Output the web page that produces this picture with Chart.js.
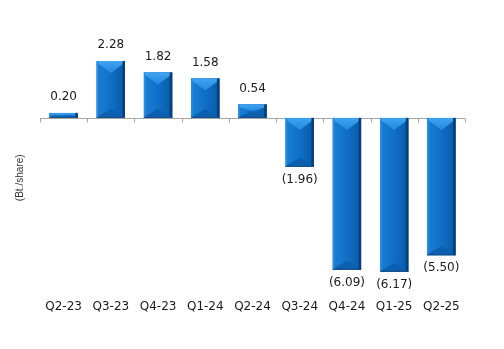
<!DOCTYPE html>
<html>
<head>
<meta charset="utf-8">
<script src="https://cdn.jsdelivr.net/npm/chart.js@4.4.1/dist/chart.umd.min.js"></script>
<style>
  body { margin: 0; background: #fff; }
</style>
</head>
<body>
<canvas id="plots" width="504" height="349"></canvas>
<script>
// quarters on the X-axis
var quarters = ["Q2-23", "Q3-23", "Q4-23", "Q1-24", "Q2-24", "Q3-24", "Q4-24", "Q1-25", "Q2-25"];
// earnings per share, Bt./share
var eps = [0.20, 2.28, 1.82, 1.58, 0.54, -1.96, -6.09, -6.17, -5.50];

function fmt(v) {
    return v < 0 ? "(" + Math.abs(v).toFixed(2) + ")" : v.toFixed(2);
}

// zero line with little tick marks between categories
var zeroLine = {
    id: "zeroLine",
    beforeDatasetsDraw: function (chart) {
        var ctx = chart.ctx, x = chart.scales.x, y = chart.scales.y;
        var y0 = Math.round(y.getPixelForValue(0)) + 0.5;
        var half = (x.getPixelForValue(1) - x.getPixelForValue(0)) / 2;
        ctx.save();
        ctx.strokeStyle = "#a6a6a6";
        ctx.lineWidth = 1;
        ctx.beginPath();
        ctx.moveTo(chart.chartArea.left, y0);
        ctx.lineTo(chart.chartArea.right, y0);
        for (var i = 0; i <= quarters.length; i++) {
            var px = Math.round(x.getPixelForValue(i) - half) + 0.5;
            ctx.moveTo(px, y0);
            ctx.lineTo(px, y0 + 4);
        }
        ctx.stroke();
        ctx.restore();
    }
};

function poly(ctx, pts, color) {
    ctx.fillStyle = color;
    ctx.beginPath();
    ctx.moveTo(pts[0][0], pts[0][1]);
    for (var k = 1; k < pts.length; k++) ctx.lineTo(pts[k][0], pts[k][1]);
    ctx.closePath();
    ctx.fill();
}

// bevel look on the bars + value labels
var bevel = {
    id: "bevel",
    afterDatasetsDraw: function (chart) {
        var ctx = chart.ctx;
        var bars = chart.getDatasetMeta(0).data;
        ctx.save();
        bars.forEach(function (bar, i) {
            var L = bar.x - bar.width / 2, R = bar.x + bar.width / 2, cx = bar.x;
            var T = Math.min(bar.y, bar.base), B = Math.max(bar.y, bar.base);
            var h = B - T;
            var t = Math.min(12, h / 2), bb = Math.min(9, h / 2);

            var g = ctx.createLinearGradient(L, 0, R, 0);
            g.addColorStop(0, "#1b7fd6");
            g.addColorStop(0.5, "#0f6fc6");
            g.addColorStop(1, "#0a5aa6");
            ctx.fillStyle = g;
            ctx.fillRect(L, T, R - L, h);

            // top chevron
            var gt = ctx.createLinearGradient(0, T, 0, T + t);
            gt.addColorStop(0, "#3fa4f2");
            gt.addColorStop(1, "#2388e0");
            poly(ctx, [[L, T], [R, T], [R - 2, T + Math.min(3, h / 2)], [cx, T + t], [L + 2, T + Math.min(3, h / 2)]], gt);
            // bottom chevron
            poly(ctx, [[L, B], [R, B], [R - 2, B - Math.min(2, h / 2)], [cx, B - bb], [L + 2, B - Math.min(2, h / 2)]], "#0c5fae");
            // edges
            ctx.fillStyle = "#2b8fe6";
            ctx.fillRect(L, T, 1.5, h);
            ctx.fillStyle = "#083f7a";
            ctx.fillRect(R - 2.5, T, 2.5, h);
            ctx.fillStyle = "#1c4f86";
            ctx.fillRect(L, B - 1, R - L, 1);

            // value label
            var v = eps[i];
            ctx.fillStyle = "#1a1a1a";
            ctx.font = "12px 'DejaVu Sans'";
            ctx.textAlign = "center";
            ctx.textBaseline = "middle";
            ctx.fillText(fmt(v), bar.x, v < 0 ? B + 13 : T - 16);
        });
        ctx.restore();
    }
};

Chart.defaults.font.family = "'DejaVu Sans'";
Chart.defaults.color = "#1a1a1a";

new Chart(document.getElementById("plots"), {
    type: "bar",
    data: {
        labels: quarters,
        datasets: [{
            data: eps,
            backgroundColor: "#0f6fc6",
            barPercentage: 0.6,
            categoryPercentage: 1
        }]
    },
    options: {
        responsive: false,
        animation: false,
        layout: { padding: { top: 58, right: 39, bottom: 33, left: 14 } },
        plugins: { legend: { display: false }, tooltip: { enabled: false } },
        scales: {
            x: {
                grid: { display: false, drawTicks: false },
                border: { display: false },
                ticks: { padding: 2, font: { size: 12 }, maxRotation: 0, autoSkip: false }
            },
            y: {
                min: -7.2,
                max: 2.4,
                grid: { display: false, drawTicks: false },
                border: { display: false },
                ticks: { display: false },
                title: {
                    display: true,
                    text: "(Bt./share)",
                    font: { family: "'Liberation Sans'", size: 10 },
                    color: "#333",
                    padding: { top: 0, bottom: 14 }
                }
            }
        }
    },
    plugins: [zeroLine, bevel]
});
</script>
</body>
</html>
